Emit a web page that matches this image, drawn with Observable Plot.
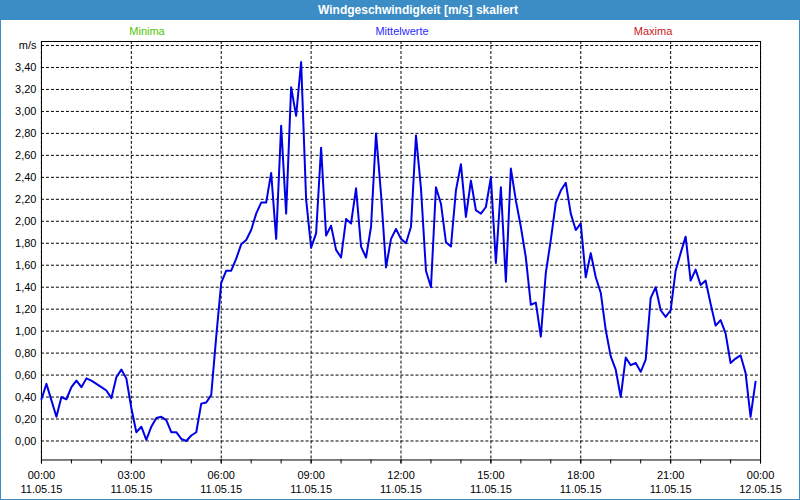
<!DOCTYPE html>
<html>
<head>
<meta charset="utf-8">
<script src="https://cdn.jsdelivr.net/npm/d3@7"></script>
<script src="https://cdn.jsdelivr.net/npm/@observablehq/plot@0.6"></script>
<style>
  html, body { margin: 0; padding: 0; background: #fff; }
  #wrap { position: relative; width: 800px; height: 500px; box-sizing: border-box;
          border: 1px solid #3c8dc5; border-top: none; overflow: hidden; font-family: "Liberation Sans", Arial, sans-serif; }
  #title { height: 20px; line-height: 20px; background: #3c8dc5; color: #fff; font-weight: bold;
           font-size: 12px; text-align: center; padding-left: 36px; margin: 0 -1px; }
  #legend { position: relative; height: 20px; font-size: 11px; }
  #legend span { position: absolute; top: 5px; transform: translateX(-50%); white-space: nowrap; }
  #chart { position: absolute; left: -1px; top: 40px; }
</style>
</head>
<body>
<div id="wrap">
  <div id="title">Windgeschwindigkeit [m/s] skaliert</div>
  <div id="legend"></div>
  <div id="chart"></div>
</div>
<script>
// Data (10-minute means, 11.05.15 00:00 – 23:50)
const startTime = "2015-05-11T00:00:00Z";
const stepMinutes = 10;
const speeds = [
  0.38, 0.52, 0.37, 0.22, 0.40, 0.38,
  0.49, 0.55, 0.49, 0.57, 0.55, 0.52,
  0.49, 0.46, 0.39, 0.58, 0.65, 0.57,
  0.30, 0.08, 0.13, 0.01, 0.13, 0.21,
  0.22, 0.19, 0.08, 0.08, 0.02, 0.00,
  0.05, 0.08, 0.34, 0.35, 0.42, 0.95,
  1.44, 1.55, 1.55, 1.66, 1.79, 1.83,
  1.92, 2.07, 2.17, 2.17, 2.44, 1.84,
  2.87, 2.07, 3.22, 2.96, 3.45, 2.20,
  1.76, 1.89, 2.67, 1.87, 1.96, 1.74,
  1.67, 2.02, 1.98, 2.30, 1.77, 1.67,
  1.95, 2.80, 2.25, 1.58, 1.84, 1.93,
  1.84, 1.80, 1.95, 2.78, 2.30, 1.55,
  1.40, 2.31, 2.16, 1.81, 1.77, 2.28,
  2.52, 2.04, 2.37, 2.10, 2.07, 2.13,
  2.40, 1.62, 2.31, 1.45, 2.48, 2.19,
  1.95, 1.67, 1.24, 1.26, 0.95, 1.53,
  1.83, 2.17, 2.28, 2.35, 2.07, 1.92,
  1.98, 1.49, 1.71, 1.49, 1.35, 1.01,
  0.77, 0.65, 0.40, 0.76, 0.69, 0.71,
  0.63, 0.74, 1.30, 1.40, 1.19, 1.13,
  1.19, 1.55, 1.71, 1.86, 1.46, 1.56,
  1.42, 1.46, 1.25, 1.05, 1.10, 0.98,
  0.71, 0.75, 0.78, 0.62, 0.22, 0.54
];
const yTicks = [0, 0.2, 0.4, 0.6, 0.8, 1.0, 1.2, 1.4, 1.6, 1.8, 2.0, 2.2, 2.4, 2.6, 2.8, 3.0, 3.2, 3.4, 3.6];
const yUnit = "m/s";
const legendItems = [
  {label: "Minima", color: "#4fc400", center: 146},
  {label: "Mittelwerte", color: "#2a2aff", center: 401},
  {label: "Maxima", color: "#c81a1a", center: 652}
];

const legend = document.getElementById("legend");
for (const it of legendItems) {
  const s = document.createElement("span");
  s.textContent = it.label; s.style.color = it.color; s.style.left = it.center + "px";
  legend.appendChild(s);
}

const t0 = new Date(startTime);
const data = speeds.map((v, i) => ({time: new Date(+t0 + i * stepMinutes * 60000), value: v}));
const tEnd = d3.utcDay.offset(t0, 1);
const majorTicks = d3.utcHour.every(3).range(t0, new Date(+tEnd + 1));
const minorTicks = d3.utcHour.range(t0, new Date(+tEnd + 1));
const fmt = v => Math.abs(v - 3.6) < 1e-9 ? yUnit : v.toFixed(2).replace(".", ",");

const chart = Plot.plot({
  width: 800,
  height: 460,
  marginLeft: 41,
  marginRight: 39,
  marginTop: 1,
  marginBottom: 40,
  style: {fontFamily: "Liberation Sans, Arial, sans-serif", fontSize: "11px", color: "#000", background: "transparent"},
  x: {type: "utc", domain: [t0, tEnd]},
  y: {domain: [-0.1727, 3.6364]},
  marks: [
    Plot.gridY(yTicks, {stroke: "#000", strokeOpacity: 1, strokeDasharray: "3,2"}),
    Plot.gridX(majorTicks, {stroke: "#000", strokeOpacity: 1, strokeDasharray: "3,2"}),
    Plot.frame({stroke: "#000", strokeWidth: 1}),
    Plot.axisY(yTicks, {tickSize: 0, tickPadding: 5, tickFormat: fmt, label: null}),
    Plot.axisX(minorTicks, {tickSize: 4, tickFormat: () => "", label: null}),
    Plot.axisX(majorTicks, {tickSize: 4, tickPadding: 7, tickFormat: d3.utcFormat("%H:%M"), label: null}),
    Plot.axisX(majorTicks, {tickSize: 0, tickPadding: 25, tickFormat: d3.utcFormat("%d.%m.%y"), label: null}),
    Plot.line(data, {x: "time", y: "value", stroke: "#0000e6", strokeWidth: 2})
  ]
});
document.getElementById("chart").appendChild(chart);
</script>
</body>
</html>
